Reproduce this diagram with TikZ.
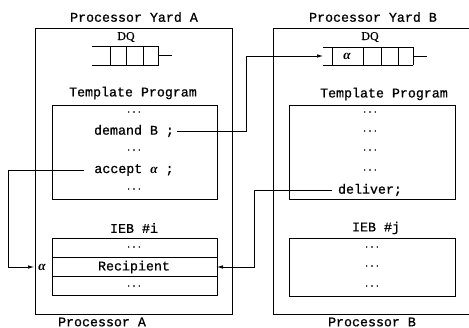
\documentclass[tikz,border=0pt]{standalone}
\usepackage{fontspec}
\newfontfamily\monofont[FakeBold=0.8]{Liberation Mono}
\newfontfamily\dqfont[FakeBold=0.6]{Liberation Serif}
\newfontfamily\grkfont{Liberation Serif}
\usetikzlibrary{arrows.meta}
\newcommand{\galpha}{{\grkfont\bfseries\itshape α}}
\begin{document}
\begin{tikzpicture}[x=1pt,y=-1pt,
  frame/.style={draw, line width=0.9pt},
  boxnode/.style={frame, inner sep=0pt, anchor=north west},
  txt/.style={font=\monofont\fontsize{13.3}{13.3}\selectfont, inner sep=0pt},
  dotsn/.style={font=\monofont\fontsize{9}{9}\selectfont, inner sep=0pt},
  dqlbl/.style={font=\dqfont\fontsize{12}{12}\selectfont, inner sep=0pt},
  conn/.style={line width=0.7pt, -{Latex[length=6pt,width=3.5pt]}},
  plain/.style={line width=0.7pt},
]
\useasboundingbox (0,0) rectangle (469,328);

% ---------- Processor Yard A ----------
\node[txt] (yardAlbl) at (134,17) {Processor Yard A};
\node[boxnode, minimum width=197pt, minimum height=286pt] (yardA) at (35,28) {};
\node[txt] (procA) at (102,322) {Processor A};

% DQ A
\node[dqlbl] (dqAlbl) at (126,37) {DQ};
\draw[frame] (92,46) -- (158,46) -- (158,65) -- (92,65);
\foreach \x in {110,126,143} \draw[frame] (\x,46) -- (\x,65);
\draw[plain] (158,55.5) -- (172,55.5);

% Template Program A
\node[txt] (tpAlbl) at (133,93) {Template Program};
\node[boxnode, minimum width=165pt, minimum height=94pt] (tpA) at (52,105) {};
\node[dotsn] (a1) at (134,112) {...};
\node[txt] (demand) at (134,131) {demand B ;};
\node[dotsn] (a3) at (134,150) {...};
\node[txt] (accept) at (134,170) {accept \galpha\ ;};
\node[dotsn] (a5) at (134,189) {...};

% IEB #i
\node[txt] (iebAlbl) at (134,228) {IEB \#i};
\node[boxnode, minimum width=165pt, minimum height=57pt] (iebA) at (52,238) {};
\draw[frame] (52,257) -- (217,257);
\draw[frame] (52,276) -- (217,276);
\node[dotsn] (i1) at (134,247) {...};
\node[txt] (recip) at (134,267) {Recipient};
\node[dotsn] (i3) at (134,286) {...};
\node[txt] (alphaA) at (42,267) {\galpha};
\coordinate (recipE) at (217,267);
\coordinate (alphaIn) at (34,267);

% ---------- Processor Yard B ----------
\node[txt] (yardBlbl) at (373,17) {Processor Yard B};
\draw[frame] (469,28) -| (273,314) -- (469,314);
\node[txt] (procB) at (372,322) {Processor B};

% DQ B
\node[dqlbl] (dqBlbl) at (370,37) {DQ};
\draw[frame] (413,47) -- (323,47);
\draw[frame] (323,65) -- (413,65);
\foreach \x in {332,363,381,398,413} \draw[frame] (\x,47) -- (\x,65);
\draw[plain] (413,56) -- (427,56);
\node[txt] (alphaB) at (347,56) {\galpha};
\coordinate (qBin) at (323,56);

% Template Program B
\node[txt] (tpBlbl) at (384,94) {Template Program};
\node[boxnode, minimum width=166pt, minimum height=94pt] (tpB) at (289,105) {};
\node[dotsn] (b1) at (370,112) {...};
\node[dotsn] (b2) at (370,131) {...};
\node[dotsn] (b3) at (370,150) {...};
\node[dotsn] (b4) at (370,170) {...};
\node[txt] (deliver) at (370,190) {deliver;};

% IEB #j
\node[txt] (iebBlbl) at (376,228) {IEB \#j};
\node[boxnode, minimum width=166pt, minimum height=58pt] (iebB) at (289,238) {};
\node[dotsn] (j1) at (372,247) {...};
\node[dotsn] (j2) at (372,266) {...};
\node[dotsn] (j3) at (372,286) {...};

% ---------- connectors ----------
\coordinate (turn1) at (246,0);
\coordinate (turn2) at (8,0);
\coordinate (turn3) at (254,0);
\coordinate (dem0) at ([xshift=3pt]demand.east);
\coordinate (acc0) at ([xshift=-10pt]accept.west);
\coordinate (del0) at ([xshift=-6pt]deliver.west);
\draw[conn] (dem0) -- (dem0 -| turn1) |- (qBin);
\draw[conn] (acc0) -- (acc0 -| turn2) |- (alphaIn);
\draw[conn] (del0) -- (del0 -| turn3) |- (recipE);
\end{tikzpicture}
\end{document}
